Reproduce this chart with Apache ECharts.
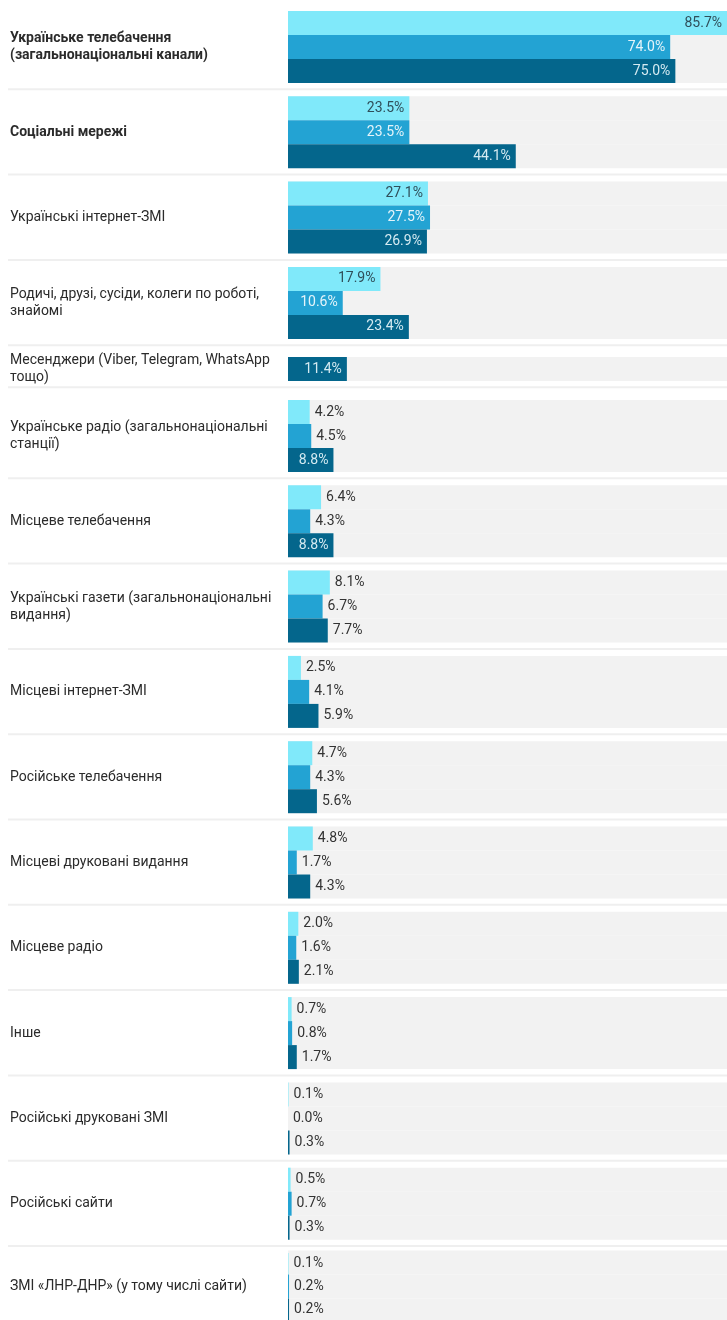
<!DOCTYPE html>
<html>
<head>
<meta charset="utf-8">
<script src="https://cdn.jsdelivr.net/npm/echarts@6/dist/echarts.min.js"></script>
<style>
html,body{margin:0;padding:0;background:#fff;}
#chart{width:727px;height:1320px;}
</style>
</head>
<body>
<div id="chart"></div>
<script>
const categories = [
  "Українське телебачення\n(загальнонаціональні канали)",
  "Соціальні мережі",
  "Українські інтернет-ЗМІ",
  "Родичі, друзі, сусіди, колеги по роботі,\nзнайомі",
  "Месенджери (Viber, Telegram, WhatsApp\nтощо)",
  "Українське радіо (загальнонаціональні\nстанції)",
  "Місцеве телебачення",
  "Українські газети (загальнонаціональні\nвидання)",
  "Місцеві інтернет-ЗМІ",
  "Російське телебачення",
  "Місцеві друковані видання",
  "Місцеве радіо",
  "Інше",
  "Російські друковані ЗМІ",
  "Російські сайти",
  "ЗМІ «ЛНР-ДНР» (у тому числі сайти)"
];
const seriesLight  = [85.7, 23.5, 27.1, 17.9, null, 4.2, 6.4, 8.1, 2.5, 4.7, 4.8, 2.0, 0.7, 0.1, 0.5, 0.1];
const seriesMedium = [74.0, 23.5, 27.5, 10.6, null, 4.5, 4.3, 6.7, 4.1, 4.3, 1.7, 1.6, 0.8, 0.0, 0.7, 0.2];
const seriesDark   = [75.0, 44.1, 26.9, 23.4, 11.4, 8.8, 8.8, 7.7, 5.9, 5.6, 4.3, 2.1, 1.7, 0.3, 0.3, 0.2];
const boldRows = [0, 1];

const colors = ['#80e9fa', '#23a3d3', '#04668c'];
const insideColors = ['#2f4f5a', 'rgba(255,255,255,0.88)', 'rgba(230,245,250,0.92)'];
const FONT = 'Roboto, "Noto Sans", sans-serif';
const BAR = 24;
const LEFT = 288;

// layout of rows
const tops = [];
for (let i = 0; i < categories.length; i++) {
  if (i <= 3) tops.push(11 + 85.3 * i);
  else if (i === 4) tops.push(357);
  else tops.push(400 + 85.3 * (i - 5));
}

const grids = [], xAxes = [], yAxes = [], series = [], graphics = [];
const all = [seriesLight, seriesMedium, seriesDark];

categories.forEach((cat, i) => {
  const present = [0, 1, 2].filter(s => all[s][i] !== null);
  const h = present.length * BAR;
  grids.push({ left: LEFT, right: 0, top: tops[i], height: h, containLabel: false });
  xAxes.push({ type: 'value', gridIndex: i, min: 0, max: 85, show: false });
  yAxes.push({
    type: 'category', gridIndex: i, data: [cat],
    axisLine: { show: false }, axisTick: { show: false },
    axisLabel: {
      align: 'left', margin: LEFT - 10, color: '#2b2b2b',
      fontFamily: FONT, fontSize: 14, lineHeight: 17,
      fontWeight: boldRows.includes(i) ? 'bold' : 'normal'
    }
  });
  present.forEach(s => {
    const v = all[s][i];
    const inside = v >= 8.5;
    series.push({
      type: 'bar', xAxisIndex: i, yAxisIndex: i,
      barWidth: BAR, barGap: '0%',
      data: [v],
      itemStyle: { color: colors[s] },
      showBackground: true,
      backgroundStyle: { color: '#f2f2f2' },
      label: {
        show: true,
        position: inside ? 'insideRight' : 'right',
        distance: 5,
        formatter: p => p.value.toFixed(1) + '%',
        color: inside ? insideColors[s] : '#333',
        fontFamily: FONT, fontSize: 14
      },
      silent: true, animation: false
    });
  });
  if (i < categories.length - 1) {
    const y = tops[i] + h + 6.3;
    graphics.push({
      type: 'line', shape: { x1: 8, y1: y, x2: 727, y2: y },
      style: { stroke: '#efefef', lineWidth: 2 }, silent: true
    });
  }
});

const chart = echarts.init(document.getElementById('chart'), null, { renderer: 'canvas' });
chart.setOption({
  backgroundColor: '#fff',
  animation: false,
  grid: grids, xAxis: xAxes, yAxis: yAxes, series: series,
  graphic: graphics
});
</script>
</body>
</html>
